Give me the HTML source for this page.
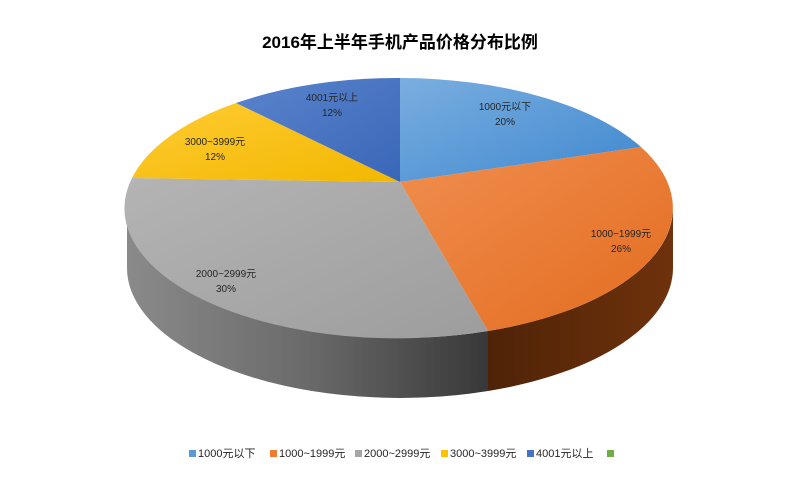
<!DOCTYPE html>
<html><head><meta charset="utf-8"><style>
body{margin:0;background:#fff;}
svg text{font-family:"Liberation Sans","Noto Sans CJK SC",sans-serif;fill:#262626;}
</style></head><body>
<svg width="800" height="472" viewBox="0 0 800 472" xmlns="http://www.w3.org/2000/svg">
<defs>
<linearGradient id="gb" x1="0" y1="0" x2="1" y2="1"><stop offset="0" stop-color="#7aaee0"/><stop offset="1" stop-color="#3f88cf"/></linearGradient>
<linearGradient id="go" x1="0" y1="0" x2="1" y2="1"><stop offset="0" stop-color="#f08e4f"/><stop offset="1" stop-color="#e36c1f"/></linearGradient>
<linearGradient id="gg" x1="0" y1="0" x2="1" y2="1"><stop offset="0" stop-color="#b4b4b4"/><stop offset="1" stop-color="#9d9d9d"/></linearGradient>
<linearGradient id="gy" x1="0" y1="0" x2="1" y2="1"><stop offset="0" stop-color="#ffcc33"/><stop offset="1" stop-color="#f2b700"/></linearGradient>
<linearGradient id="gd" x1="0" y1="0" x2="1" y2="1"><stop offset="0" stop-color="#5a84cc"/><stop offset="1" stop-color="#3a66b8"/></linearGradient>
<linearGradient id="sg" x1="0" y1="0" x2="1" y2="0"><stop offset="0" stop-color="#8a8a8a"/><stop offset="0.5" stop-color="#6a6a6a"/><stop offset="1" stop-color="#383838"/></linearGradient>
<linearGradient id="so" x1="0" y1="0" x2="1" y2="0"><stop offset="0" stop-color="#4f2307"/><stop offset="1" stop-color="#6e320c"/></linearGradient>
</defs>
<text x="400" y="48" text-anchor="middle" font-size="17" font-weight="bold" style="fill:#000">2016年上半年手机产品价格分布比例</text>
<path d="M127 208 A273 130 0 0 0 488 331 L488 391 A273 130 0 0 1 127 268 Z" fill="url(#sg)"/>
<path d="M488 331 A273 130 0 0 0 673 208 L673 268 A273 130 0 0 1 488 391 Z" fill="url(#so)"/>
<path d="M400 182 L400 78 A273 130 0 0 1 641 147 Z" fill="url(#gb)"/>
<path d="M400 182 L641 147 A273 130 0 0 1 488 331 Z" fill="url(#go)"/>
<path d="M400 182 L488 331 A273 130 0 0 1 132 178 Z" fill="url(#gg)"/>
<path d="M400 182 L132 178 A273 130 0 0 1 236 103 Z" fill="url(#gy)"/>
<path d="M400 182 L236 103 A273 130 0 0 1 400 78 Z" fill="url(#gd)"/>
<g font-size="10" text-anchor="middle">
<text x="505" y="110">1000元以下</text><text x="505" y="125">20%</text>
<text x="621" y="237">1000~1999元</text><text x="621" y="252">26%</text>
<text x="226" y="277">2000~2999元</text><text x="226" y="292">30%</text>
<text x="215" y="145">3000~3999元</text><text x="215" y="160">12%</text>
<text x="332" y="101">4001元以上</text><text x="332" y="116">12%</text>
</g>
<g font-size="11">
<rect x="189" y="450" width="7" height="7" fill="#5b9bd5"/><text x="198" y="457">1000元以下</text>
<rect x="270" y="450" width="7" height="7" fill="#ed7d31"/><text x="279" y="457">1000~1999元</text>
<rect x="355" y="450" width="7" height="7" fill="#a5a5a5"/><text x="364" y="457">2000~2999元</text>
<rect x="441" y="450" width="7" height="7" fill="#ffc000"/><text x="450" y="457">3000~3999元</text>
<rect x="527" y="450" width="7" height="7" fill="#4472c4"/><text x="536" y="457">4001元以上</text>
<rect x="607" y="450" width="7" height="7" fill="#70ad47"/>
</g>
</svg>
</body></html>
